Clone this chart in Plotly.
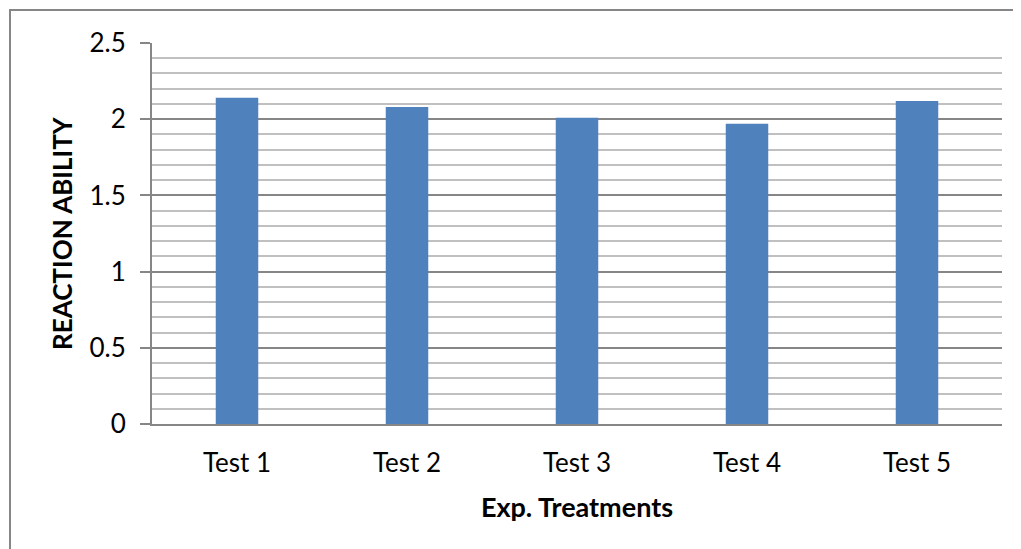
import plotly.graph_objects as go

categories = ["Test 1", "Test 2", "Test 3", "Test 4", "Test 5"]
values = [2.14, 2.08, 2.01, 1.97, 2.12]
y_ticks = [0, 0.5, 1, 1.5, 2, 2.5]
y_tick_labels = ["0", "0.5", "1", "1.5", "2", "2.5"]

# the page body has an 8px margin, so the figure is sized to fit inside the window
W, H = 1013, 541
L, R, T, B = 144, 19, 35, 125
pw, ph = W - L - R, H - T - B

def px(xf):
    return (xf - L) / pw

def py(yf):
    return (H - B - yf) / ph

fig = go.Figure(go.Bar(x=categories, y=values, marker=dict(color="#4f81bd", line=dict(width=0)),
                       width=0.25))

font = "Lato, 'Open Sans', sans-serif"
fig.update_layout(
    width=W, height=H,
    margin=dict(l=L, r=R, t=T, b=B, autoexpand=False),
    paper_bgcolor="white", plot_bgcolor="white",
    showlegend=False,
    font=dict(family=font, size=26, color="black"),
)
fig.update_xaxes(
    showline=True, linecolor="#868686", linewidth=2,
    showgrid=False, ticks="", ticklabelstandoff=15,
    tickfont=dict(size=26),
    title=dict(text="<b>Exp. Treatments</b>", font=dict(size=27), standoff=21),
    range=[-0.5, 4.5],
)
fig.update_yaxes(
    range=[0, 2.5], tickvals=y_ticks, ticktext=y_tick_labels,
    ticklabelstandoff=9,
    showline=True, linecolor="#868686", linewidth=2,
    ticks="outside", ticklen=10, tickcolor="#868686", tickwidth=2,
    showgrid=True, gridcolor="#868686", gridwidth=2,
    minor=dict(dtick=0.1, showgrid=True, gridcolor="#c0c0c0", gridwidth=1.5, ticks=""),
    tickfont=dict(size=26),
    zeroline=False,
)
fig.add_annotation(text="<b>REACTION ABILITY</b>", textangle=-90, showarrow=False,
                   xref="paper", yref="paper", x=px(54), y=py(225),
                   xanchor="center", yanchor="middle", font=dict(size=26))
# outer chart border (Excel chart area)
fig.add_shape(type="rect", xref="paper", yref="paper",
              x0=px(2), x1=px(1040), y0=py(570), y1=py(2),
              line=dict(color="#868686", width=2), fillcolor="rgba(0,0,0,0)", layer="below")

fig.write_html("out.html")
